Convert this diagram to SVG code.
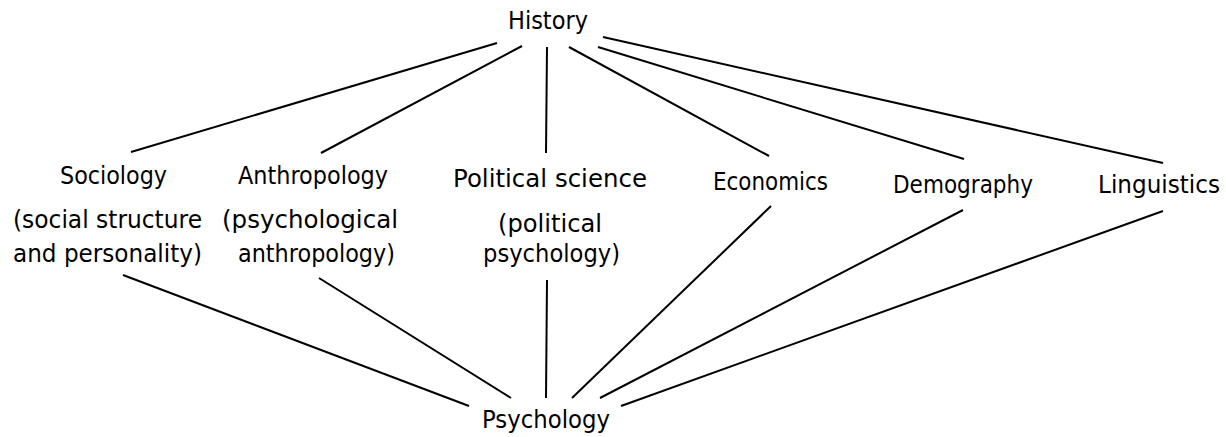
<svg xmlns="http://www.w3.org/2000/svg" width="1226" height="437" viewBox="0 0 1226 437">
<style>
text{font-family:"DejaVu Sans","Liberation Sans",sans-serif;font-size:24px;fill:#000}
.c line{stroke:#000;stroke-width:2;stroke-linecap:butt}
</style>
<rect width="1226" height="437" fill="#fff"/>
<g id="connectors" class="c">
<line x1="497" y1="43" x2="131" y2="152"/>
<line x1="522" y1="46" x2="321" y2="153"/>
<line x1="547" y1="47" x2="546" y2="153"/>
<line x1="569" y1="47" x2="769" y2="156"/>
<line x1="598" y1="47" x2="964" y2="159"/>
<line x1="603" y1="37" x2="1163" y2="163"/>
<line x1="123" y1="275" x2="469" y2="406"/>
<line x1="319" y1="278" x2="511" y2="398"/>
<line x1="547" y1="280" x2="546" y2="398"/>
<line x1="771" y1="206" x2="572" y2="398"/>
<line x1="963" y1="210" x2="600" y2="398"/>
<line x1="1163" y1="211" x2="621" y2="406"/>
</g>
<g id="history"><text x="508" y="29" textLength="80" lengthAdjust="spacingAndGlyphs">History</text></g>
<g id="sociology">
<text x="60" y="184" textLength="107" lengthAdjust="spacingAndGlyphs">Sociology</text>
<text x="13" y="228" textLength="189" lengthAdjust="spacingAndGlyphs">(social structure</text>
<text x="13" y="262" textLength="189" lengthAdjust="spacingAndGlyphs">and personality)</text>
</g>
<g id="anthropology">
<text x="238" y="184" textLength="150" lengthAdjust="spacingAndGlyphs">Anthropology</text>
<text x="222" y="228" textLength="176" lengthAdjust="spacingAndGlyphs">(psychological</text>
<text x="238" y="262" textLength="157" lengthAdjust="spacingAndGlyphs">anthropology)</text>
</g>
<g id="political-science">
<text x="453" y="187" textLength="194" lengthAdjust="spacingAndGlyphs">Political science</text>
<text x="498" y="232" textLength="104" lengthAdjust="spacingAndGlyphs">(political</text>
<text x="483" y="262" textLength="137" lengthAdjust="spacingAndGlyphs">psychology)</text>
</g>
<g id="economics"><text x="713" y="190" textLength="115" lengthAdjust="spacingAndGlyphs">Economics</text></g>
<g id="demography"><text x="893" y="193" textLength="140" lengthAdjust="spacingAndGlyphs">Demography</text></g>
<g id="linguistics"><text x="1098" y="193" textLength="122" lengthAdjust="spacingAndGlyphs">Linguistics</text></g>
<g id="psychology"><text x="482" y="428" textLength="128" lengthAdjust="spacingAndGlyphs">Psychology</text></g>
</svg>
